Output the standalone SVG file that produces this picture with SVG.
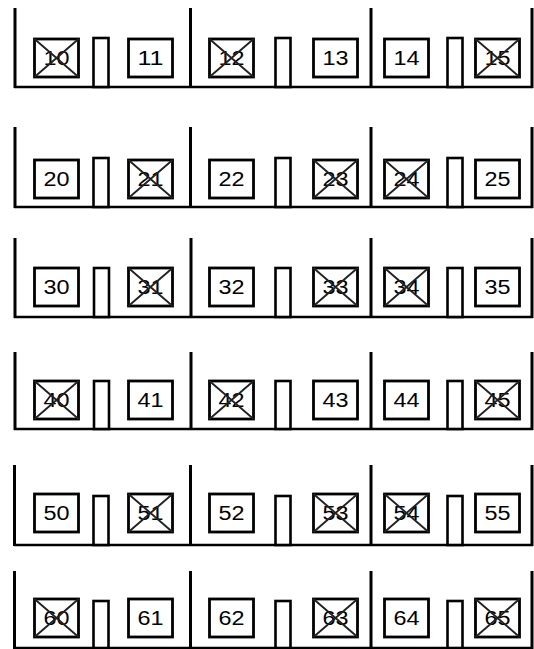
<svg xmlns="http://www.w3.org/2000/svg" width="534" height="649" viewBox="0 0 534 649">
<style>
.bg{fill:#fff}
.wall{stroke:#000;stroke-width:3;fill:none}
.floor{stroke:#000;stroke-width:2.3;fill:none}
.box rect{fill:#fff;stroke:#000;stroke-width:2.8}
.box .x{stroke:#222;stroke-width:1.9;fill:none}
.post{fill:#fff;stroke:#000;stroke-width:2.6}
.box text{font-family:"Liberation Sans",Arial,sans-serif;font-size:20px;fill:#000;text-anchor:middle}
</style>
<rect class="bg" width="534" height="649"/>
<g id="frame">
<path class="wall" d="M15,8V88M190.5,8V88M371,8V88M532,8V88M15,127V208M190.5,127V208M371,127V208M532,127V208M15,238V318M191,238V318M371,238V318M532,238V318M15,352V430M191,352V430M371,352V430M532,352V430M14.5,465V546M190.5,465V546M371,465V546M532,465V546M14.5,571V649M190.5,571V649M371,571V649M532,571V649"/>
<path class="floor" d="M14,87H533M14,207H533M14,317H533M14,429H533M14,545H533M14,648H533"/>
<rect class="post" x="93.5" y="38" width="15" height="49"/><rect class="post" x="275.5" y="38" width="15" height="49"/><rect class="post" x="447.5" y="38" width="15" height="49"/>
<rect class="post" x="93.5" y="158" width="15" height="49"/><rect class="post" x="275.5" y="158" width="15" height="49"/><rect class="post" x="447.5" y="158" width="15" height="49"/>
<rect class="post" x="94" y="268" width="15" height="49"/><rect class="post" x="275.5" y="268" width="15" height="49"/><rect class="post" x="447.5" y="268" width="15" height="49"/>
<rect class="post" x="94" y="381" width="15" height="48"/><rect class="post" x="275.5" y="381" width="15" height="48"/><rect class="post" x="447.5" y="381" width="15" height="48"/>
<rect class="post" x="93.5" y="496" width="15" height="49"/><rect class="post" x="275.5" y="496" width="15" height="49"/><rect class="post" x="447.5" y="496" width="15" height="49"/>
<rect class="post" x="93.5" y="601" width="15" height="47"/><rect class="post" x="275.5" y="601" width="15" height="47"/><rect class="post" x="447.5" y="601" width="15" height="47"/>
</g>
<g id="n10" class="box" transform="translate(34.5,39)"><rect width="44" height="38"/><text x="22" y="25.5" textLength="26" lengthAdjust="spacingAndGlyphs">10</text><path class="x" d="M0,0L44,38M44,0L0,38"/></g>
<g id="n11" class="box" transform="translate(128.5,39)"><rect width="44" height="38"/><text x="22" y="25.5" textLength="26" lengthAdjust="spacingAndGlyphs">11</text></g>
<g id="n12" class="box" transform="translate(209.5,39)"><rect width="44" height="38"/><text x="22" y="25.5" textLength="26" lengthAdjust="spacingAndGlyphs">12</text><path class="x" d="M0,0L44,38M44,0L0,38"/></g>
<g id="n13" class="box" transform="translate(313.5,39)"><rect width="44" height="38"/><text x="22" y="25.5" textLength="26" lengthAdjust="spacingAndGlyphs">13</text></g>
<g id="n14" class="box" transform="translate(384.5,39)"><rect width="44" height="38"/><text x="22" y="25.5" textLength="26" lengthAdjust="spacingAndGlyphs">14</text></g>
<g id="n15" class="box" transform="translate(475.5,39)"><rect width="44" height="38"/><text x="22" y="25.5" textLength="26" lengthAdjust="spacingAndGlyphs">15</text><path class="x" d="M0,0L44,38M44,0L0,38"/></g>
<g id="n20" class="box" transform="translate(34.5,160)"><rect width="44" height="38"/><text x="22" y="25.5" textLength="26" lengthAdjust="spacingAndGlyphs">20</text></g>
<g id="n21" class="box" transform="translate(128.5,160)"><rect width="44" height="38"/><text x="22" y="25.5" textLength="26" lengthAdjust="spacingAndGlyphs">21</text><path class="x" d="M0,0L44,38M44,0L0,38"/></g>
<g id="n22" class="box" transform="translate(209.5,160)"><rect width="44" height="38"/><text x="22" y="25.5" textLength="26" lengthAdjust="spacingAndGlyphs">22</text></g>
<g id="n23" class="box" transform="translate(313.5,160)"><rect width="44" height="38"/><text x="22" y="25.5" textLength="26" lengthAdjust="spacingAndGlyphs">23</text><path class="x" d="M0,0L44,38M44,0L0,38"/></g>
<g id="n24" class="box" transform="translate(384.5,160)"><rect width="44" height="38"/><text x="22" y="25.5" textLength="26" lengthAdjust="spacingAndGlyphs">24</text><path class="x" d="M0,0L44,38M44,0L0,38"/></g>
<g id="n25" class="box" transform="translate(475.5,160)"><rect width="44" height="38"/><text x="22" y="25.5" textLength="26" lengthAdjust="spacingAndGlyphs">25</text></g>
<g id="n30" class="box" transform="translate(34.5,268)"><rect width="44" height="38"/><text x="22" y="25.5" textLength="26" lengthAdjust="spacingAndGlyphs">30</text></g>
<g id="n31" class="box" transform="translate(128.5,268)"><rect width="44" height="38"/><text x="22" y="25.5" textLength="26" lengthAdjust="spacingAndGlyphs">31</text><path class="x" d="M0,0L44,38M44,0L0,38"/></g>
<g id="n32" class="box" transform="translate(209.5,268)"><rect width="44" height="38"/><text x="22" y="25.5" textLength="26" lengthAdjust="spacingAndGlyphs">32</text></g>
<g id="n33" class="box" transform="translate(313.5,268)"><rect width="44" height="38"/><text x="22" y="25.5" textLength="26" lengthAdjust="spacingAndGlyphs">33</text><path class="x" d="M0,0L44,38M44,0L0,38"/></g>
<g id="n34" class="box" transform="translate(384.5,268)"><rect width="44" height="38"/><text x="22" y="25.5" textLength="26" lengthAdjust="spacingAndGlyphs">34</text><path class="x" d="M0,0L44,38M44,0L0,38"/></g>
<g id="n35" class="box" transform="translate(475.5,268)"><rect width="44" height="38"/><text x="22" y="25.5" textLength="26" lengthAdjust="spacingAndGlyphs">35</text></g>
<g id="n40" class="box" transform="translate(34.5,381)"><rect width="44" height="38"/><text x="22" y="25.5" textLength="26" lengthAdjust="spacingAndGlyphs">40</text><path class="x" d="M0,0L44,38M44,0L0,38"/></g>
<g id="n41" class="box" transform="translate(128.5,381)"><rect width="44" height="38"/><text x="22" y="25.5" textLength="26" lengthAdjust="spacingAndGlyphs">41</text></g>
<g id="n42" class="box" transform="translate(209.5,381)"><rect width="44" height="38"/><text x="22" y="25.5" textLength="26" lengthAdjust="spacingAndGlyphs">42</text><path class="x" d="M0,0L44,38M44,0L0,38"/></g>
<g id="n43" class="box" transform="translate(313.5,381)"><rect width="44" height="38"/><text x="22" y="25.5" textLength="26" lengthAdjust="spacingAndGlyphs">43</text></g>
<g id="n44" class="box" transform="translate(384.5,381)"><rect width="44" height="38"/><text x="22" y="25.5" textLength="26" lengthAdjust="spacingAndGlyphs">44</text></g>
<g id="n45" class="box" transform="translate(475.5,381)"><rect width="44" height="38"/><text x="22" y="25.5" textLength="26" lengthAdjust="spacingAndGlyphs">45</text><path class="x" d="M0,0L44,38M44,0L0,38"/></g>
<g id="n50" class="box" transform="translate(34.5,494)"><rect width="44" height="38"/><text x="22" y="25.5" textLength="26" lengthAdjust="spacingAndGlyphs">50</text></g>
<g id="n51" class="box" transform="translate(128.5,494)"><rect width="44" height="38"/><text x="22" y="25.5" textLength="26" lengthAdjust="spacingAndGlyphs">51</text><path class="x" d="M0,0L44,38M44,0L0,38"/></g>
<g id="n52" class="box" transform="translate(209.5,494)"><rect width="44" height="38"/><text x="22" y="25.5" textLength="26" lengthAdjust="spacingAndGlyphs">52</text></g>
<g id="n53" class="box" transform="translate(313.5,494)"><rect width="44" height="38"/><text x="22" y="25.5" textLength="26" lengthAdjust="spacingAndGlyphs">53</text><path class="x" d="M0,0L44,38M44,0L0,38"/></g>
<g id="n54" class="box" transform="translate(384.5,494)"><rect width="44" height="38"/><text x="22" y="25.5" textLength="26" lengthAdjust="spacingAndGlyphs">54</text><path class="x" d="M0,0L44,38M44,0L0,38"/></g>
<g id="n55" class="box" transform="translate(475.5,494)"><rect width="44" height="38"/><text x="22" y="25.5" textLength="26" lengthAdjust="spacingAndGlyphs">55</text></g>
<g id="n60" class="box" transform="translate(34.5,599)"><rect width="44" height="38"/><text x="22" y="25.5" textLength="26" lengthAdjust="spacingAndGlyphs">60</text><path class="x" d="M0,0L44,38M44,0L0,38"/></g>
<g id="n61" class="box" transform="translate(128.5,599)"><rect width="44" height="38"/><text x="22" y="25.5" textLength="26" lengthAdjust="spacingAndGlyphs">61</text></g>
<g id="n62" class="box" transform="translate(209.5,599)"><rect width="44" height="38"/><text x="22" y="25.5" textLength="26" lengthAdjust="spacingAndGlyphs">62</text></g>
<g id="n63" class="box" transform="translate(313.5,599)"><rect width="44" height="38"/><text x="22" y="25.5" textLength="26" lengthAdjust="spacingAndGlyphs">63</text><path class="x" d="M0,0L44,38M44,0L0,38"/></g>
<g id="n64" class="box" transform="translate(384.5,599)"><rect width="44" height="38"/><text x="22" y="25.5" textLength="26" lengthAdjust="spacingAndGlyphs">64</text></g>
<g id="n65" class="box" transform="translate(475.5,599)"><rect width="44" height="38"/><text x="22" y="25.5" textLength="26" lengthAdjust="spacingAndGlyphs">65</text><path class="x" d="M0,0L44,38M44,0L0,38"/></g>
</svg>
